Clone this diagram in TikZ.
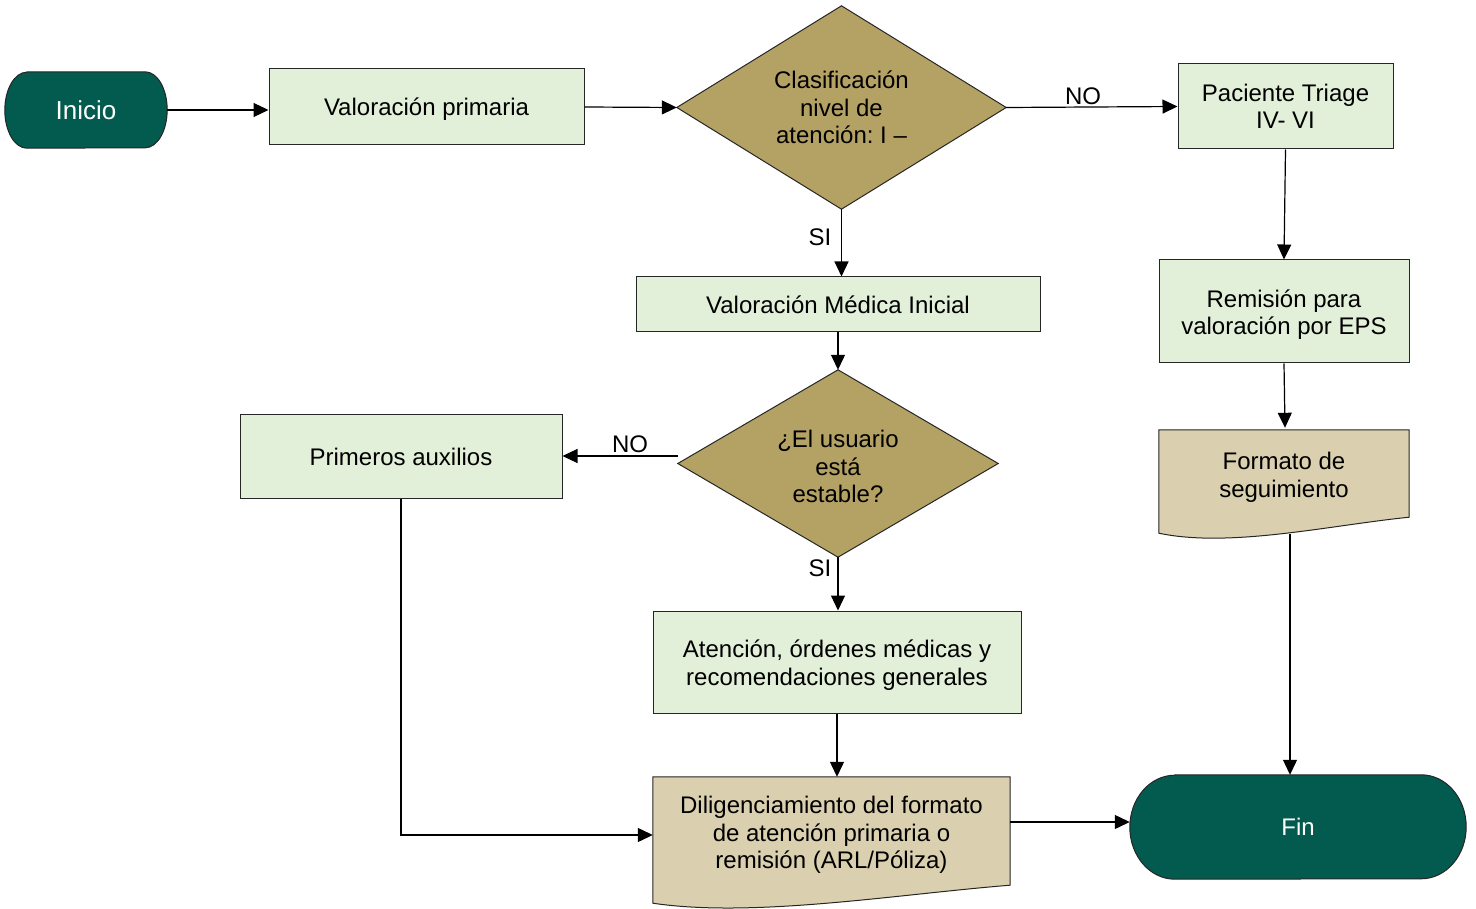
\documentclass[tikz,border=0pt]{standalone}
\usepackage{fontspec}
\setmainfont{Liberation Sans}
\usetikzlibrary{arrows.meta,calc}
\definecolor{termfill}{HTML}{035A4E}
\definecolor{boxfill}{HTML}{E2EFD9}
\definecolor{diafill}{HTML}{B4A164}
\definecolor{docfill}{HTML}{DACFAE}
\begin{document}
\frenchspacing
\begin{tikzpicture}[x=1pt,y=-1pt,
  font=\fontsize{24}{27.5}\selectfont,
  box/.style={draw=black!85, line width=1pt, fill=boxfill, inner sep=0pt},
  ghost/.style={inner sep=0pt, align=center},
  txt/.style={inner sep=0pt, align=center, yshift=-3pt},
  conn/.style={line width=1.2pt, -{Triangle[length=15pt,width=14pt]}},
  lbl/.style={inner sep=0pt},
  shapeline/.style={draw=black!85, line width=1pt}]
\useasboundingbox (0,0) rectangle (1476,909);

% ---------- Inicio (terminator)
\node[ghost, minimum width=162pt, minimum height=76pt] (ini) at (86,110) {};
\path[shapeline, fill=termfill]
  ($(ini.north west)+(22,0)$) -- ($(ini.north east)+(-22,0)$)
  arc[start angle=90, end angle=-90, x radius=22pt, y radius=38pt]
  -- ($(ini.south west)+(22,0)$)
  arc[start angle=270, end angle=90, x radius=22pt, y radius=38pt] -- cycle;
\node[ghost, text=white, font=\fontsize{26}{30}\selectfont] (init) at (ini) {Inicio};

% ---------- Valoracion primaria
\node[box, minimum width=315pt, minimum height=76pt] (val) at (426.5,107) {};
\node[txt, yshift=1pt] (valt) at (val) {Valoración primaria};

% ---------- Diamond 1
\node[ghost, minimum width=329pt, minimum height=203pt] (d1) at (841.5,107.5) {};
\path[shapeline, fill=diafill] (d1.north) -- (d1.east) -- (d1.south) -- (d1.west) -- cycle;
\node[ghost] (d1t) at (d1) {Clasificación\\nivel de\\atención: I –};

% ---------- Paciente Triage
\node[box, minimum width=215pt, minimum height=85pt] (pac) at (1285.5,106.5) {};
\node[ghost] (pact) at (pac) {Paciente Triage\\IV- VI};

% ---------- Remision
\node[box, minimum width=250pt, minimum height=103pt] (rem) at (1284,311.5) {};
\node[txt] (remt) at (rem) {Remisión para\\valoración por EPS};

% ---------- Formato de seguimiento (document)
\node[ghost, minimum width=250pt, minimum height=103pt] (fmt) at (1284,481.5) {};
\path[shapeline, fill=docfill]
  (fmt.north west) -- (fmt.north east) -- ($(fmt.south east)+(0,-16)$)
  .. controls ($(fmt.south east)+(-79,-8)$) and ($(fmt.south west)+(71,15)$) .. (fmt.south west) -- cycle;
\node[txt] (fmtt) at ($(fmt.center)+(0,-7)$) {Formato de\\seguimiento};

% ---------- Valoracion Medica Inicial
\node[box, minimum width=404pt, minimum height=55pt] (vmi) at (838,304.5) {};
\node[txt, yshift=3pt] (vmit) at (vmi) {Valoración Médica Inicial};

% ---------- Diamond 2
\node[ghost, minimum width=320pt, minimum height=187pt] (d2) at (838,463.5) {};
\path[shapeline, fill=diafill] (d2.north) -- (d2.east) -- (d2.south) -- (d2.west) -- cycle;
\node[ghost] (d2t) at ($(d2.center)+(0,3)$) {¿El usuario\\está\\estable?};

% ---------- Primeros auxilios
\node[box, minimum width=322pt, minimum height=84pt] (pa) at (401,456) {};
\node[txt, yshift=2pt] (pat) at (pa) {Primeros auxilios};

% ---------- Atencion
\node[box, minimum width=368pt, minimum height=102pt] (at) at (837,662) {};
\node[txt] (att) at (at) {Atención, órdenes médicas y\\recomendaciones generales};

% ---------- Diligenciamiento (document)
\node[ghost, minimum width=357pt, minimum height=126pt] (dil) at (831.5,840) {};
\path[shapeline, fill=docfill]
  (dil.north west) -- (dil.north east) -- ($(dil.south east)+(0,-18)$)
  .. controls ($(dil.south east)+(-113,-9)$) and ($(dil.south west)+(101,15)$) .. (dil.south west) -- cycle;
\node[txt] (dilt) at ($(dil.center)+(0,-8)$) {Diligenciamiento del formato\\de atención primaria o\\remisión (ARL/Póliza)};

% ---------- Fin (terminator)
\node[ghost, minimum width=336pt, minimum height=104pt] (fin) at (1298,827) {};
\path[shapeline, fill=termfill]
  ($(fin.north west)+(45,0)$) -- ($(fin.north east)+(-45,0)$)
  arc[start angle=90, end angle=-90, x radius=45pt, y radius=52pt]
  -- ($(fin.south west)+(45,0)$)
  arc[start angle=270, end angle=90, x radius=45pt, y radius=52pt] -- cycle;
\node[ghost, text=white] (fint) at (fin) {Fin};

% ---------- Connectors
\draw[conn] (ini.east) -- (ini.east -| val.west);
\draw[conn] (val.east) -- (d1.west);
\draw[conn] (d1.east) -- (pac.west);
\node[lbl] (no1) at (1083,96) {NO};
\draw[conn] (pac.south) -- (rem.north);
\draw[conn] (rem.south) -- ($(fmt.north)+(1,-2)$);
\coordinate (fmtout) at ($(fmt.south)+(6,1)$);
\draw[conn] (fmtout) -- (fmtout |- fin.north);
\draw[conn] (d1.south) -- (d1.south |- vmi.north);
\node[lbl] (si1) at (820,237) {SI};
\draw[conn] (vmi.south -| d2.north) -- (d2.north);
\draw[conn] (d2.west |- pa.east) -- (pa.east);
\node[lbl] (no2) at (630,444) {NO};
\draw[conn] (d2.south) -- (at.north -| d2.south);
\node[lbl] (si2) at (820,568) {SI};
\draw[conn] (at.south) -- (at.south |- dil.north);
\coordinate (dilin) at ($(dil.west)+(0,-5)$);
\draw[conn] (pa.south) |- (dilin);
\coordinate (dilout) at ($(dil.east)+(0,-18)$);
\draw[conn] (dilout) -- (dilout -| fin.west);
\end{tikzpicture}
\end{document}
